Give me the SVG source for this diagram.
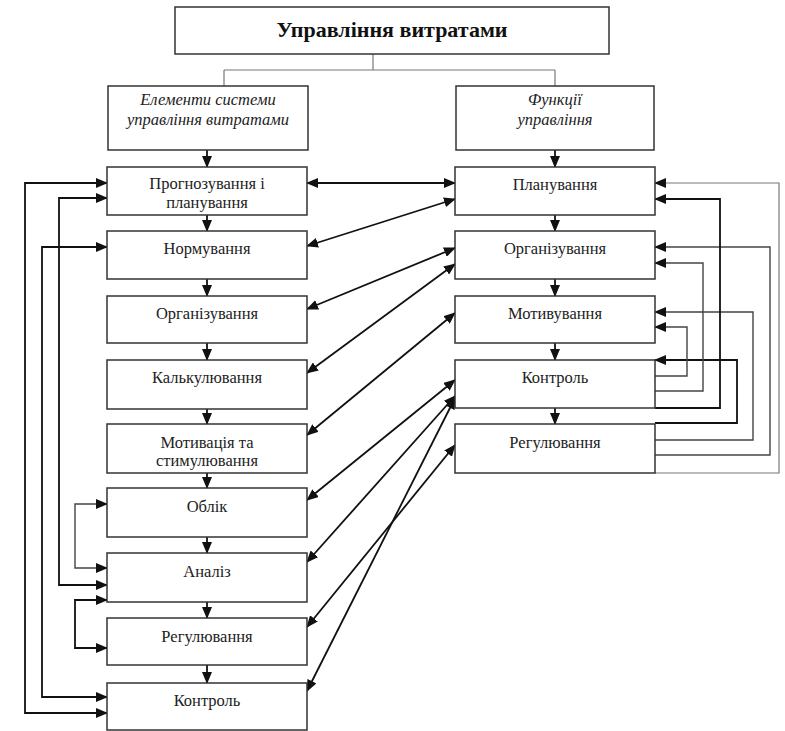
<svg xmlns="http://www.w3.org/2000/svg" width="785" height="731" viewBox="0 0 785 731">
<defs>
<marker id="ah" markerUnits="userSpaceOnUse" markerWidth="12" markerHeight="10" refX="11" refY="5" orient="auto-start-reverse">
<path d="M0,0 L12,5 L0,10 z" fill="#111"/>
</marker>
<style>
.box{fill:#fff;stroke:#333;stroke-width:1.5}
.t{font-family:"Liberation Serif","DejaVu Serif",serif;font-size:16.5px;fill:#222;text-anchor:middle}
.ti{font-family:"Liberation Serif","DejaVu Serif",serif;font-size:16.5px;font-style:italic;fill:#222;text-anchor:middle}
.tb{font-family:"Liberation Serif","DejaVu Serif",serif;font-size:22px;font-weight:bold;fill:#111;text-anchor:middle}
.c{fill:none;stroke:#111;stroke-width:1.8}
.cg{fill:none;stroke:#444;stroke-width:1.4}
.cl{fill:none;stroke:#777;stroke-width:1.2}
</style>
</defs>
<rect width="785" height="731" fill="#fff"/>

<g id="connectors">
<path class="cl" d="M373,54 V70 M224,70 H555 M224,70 V86 M555,70 V86"/>
<g class="c" marker-end="url(#ah)">
<path d="M207,150 V167"/><path d="M207,215 V231"/><path d="M207,279 V296"/>
<path d="M207,343 V360"/><path d="M207,409 V424"/><path d="M207,473 V488"/>
<path d="M207,537 V553"/><path d="M207,602 V618"/><path d="M207,665 V683"/>
<path d="M555,150 V167"/><path d="M555,215 V231"/><path d="M555,279 V296"/>
<path d="M555,343 V360"/><path d="M555,408 V424"/>
</g>
<g class="c" marker-start="url(#ah)" marker-end="url(#ah)">
<path d="M107,183 H25 V713 H107"/>
<path d="M107,247 H42 V697 H107"/>
<path d="M107,198 H59 V585 H107"/>
<path class="cg" d="M107,504 H75 V568 H107"/>
<path d="M107,600 H75 V648 H107"/>
</g>
<g class="c" marker-start="url(#ah)" marker-end="url(#ah)">
<path d="M307,183 L455,183"/>
<path d="M307,246 L455,199"/>
<path d="M307,309 L455,248"/>
<path d="M307,373 L455,264"/>
<path d="M307,435 L455,313"/>
<path d="M307,500 L455,380"/>
<path d="M307,562 L455,396"/>
<path d="M307,627 L455,445"/>
<path d="M307,691 L455,398"/>
</g>
<g class="c" marker-end="url(#ah)">
<path class="cl" d="M655,473 H779 V183 H655"/>
<path class="cg" d="M655,455 H770 V247 H655"/>
<path class="cg" d="M655,440 H753 V312 H655"/>
<path d="M655,423 H737 V360 H655"/>
<path d="M655,408 H720 V199 H655"/>
<path class="cg" d="M655,391 H703 V263 H655"/>
<path class="cg" d="M655,376 H687 V327 H655"/>
</g>
</g>

<g id="n-title"><rect class="box" x="175" y="7" width="434" height="47"/><text class="tb" x="392" y="37">Управління витратами</text></g>
<g id="n-elements"><rect class="box" x="108" y="86" width="200" height="64"/><text class="ti" x="208" y="105">Елементи системи</text><text class="ti" x="208" y="125">управління витратами</text></g>
<g id="n-functions"><rect class="box" x="456" y="86" width="198" height="64"/><text class="ti" x="555" y="105">Функції</text><text class="ti" x="555" y="125">управління</text></g>

<g id="l1"><rect class="box" x="107" y="167" width="200" height="48"/><text class="t" x="207" y="189">Прогнозування і</text><text class="t" x="207" y="208">планування</text></g>
<g id="l2"><rect class="box" x="107" y="231" width="200" height="48"/><text class="t" x="207" y="254">Нормування</text></g>
<g id="l3"><rect class="box" x="107" y="296" width="200" height="47"/><text class="t" x="207" y="319">Організування</text></g>
<g id="l4"><rect class="box" x="107" y="360" width="200" height="49"/><text class="t" x="207" y="383">Калькулювання</text></g>
<g id="l5"><rect class="box" x="107" y="424" width="200" height="49"/><text class="t" x="207" y="448">Мотивація та</text><text class="t" x="207" y="466">стимулювання</text></g>
<g id="l6"><rect class="box" x="107" y="488" width="200" height="49"/><text class="t" x="207" y="512">Облік</text></g>
<g id="l7"><rect class="box" x="107" y="553" width="200" height="49"/><text class="t" x="207" y="577">Аналіз</text></g>
<g id="l8"><rect class="box" x="107" y="618" width="200" height="47"/><text class="t" x="207" y="642">Регулювання</text></g>
<g id="l9"><rect class="box" x="107" y="683" width="200" height="47"/><text class="t" x="207" y="706">Контроль</text></g>

<g id="r1"><rect class="box" x="455" y="167" width="200" height="48"/><text class="t" x="555" y="190">Планування</text></g>
<g id="r2"><rect class="box" x="455" y="231" width="200" height="48"/><text class="t" x="555" y="254">Організування</text></g>
<g id="r3"><rect class="box" x="455" y="296" width="200" height="47"/><text class="t" x="555" y="319">Мотивування</text></g>
<g id="r4"><rect class="box" x="455" y="360" width="200" height="48"/><text class="t" x="555" y="383">Контроль</text></g>
<g id="r5"><rect class="box" x="455" y="424" width="200" height="49"/><text class="t" x="555" y="448">Регулювання</text></g>
</svg>
